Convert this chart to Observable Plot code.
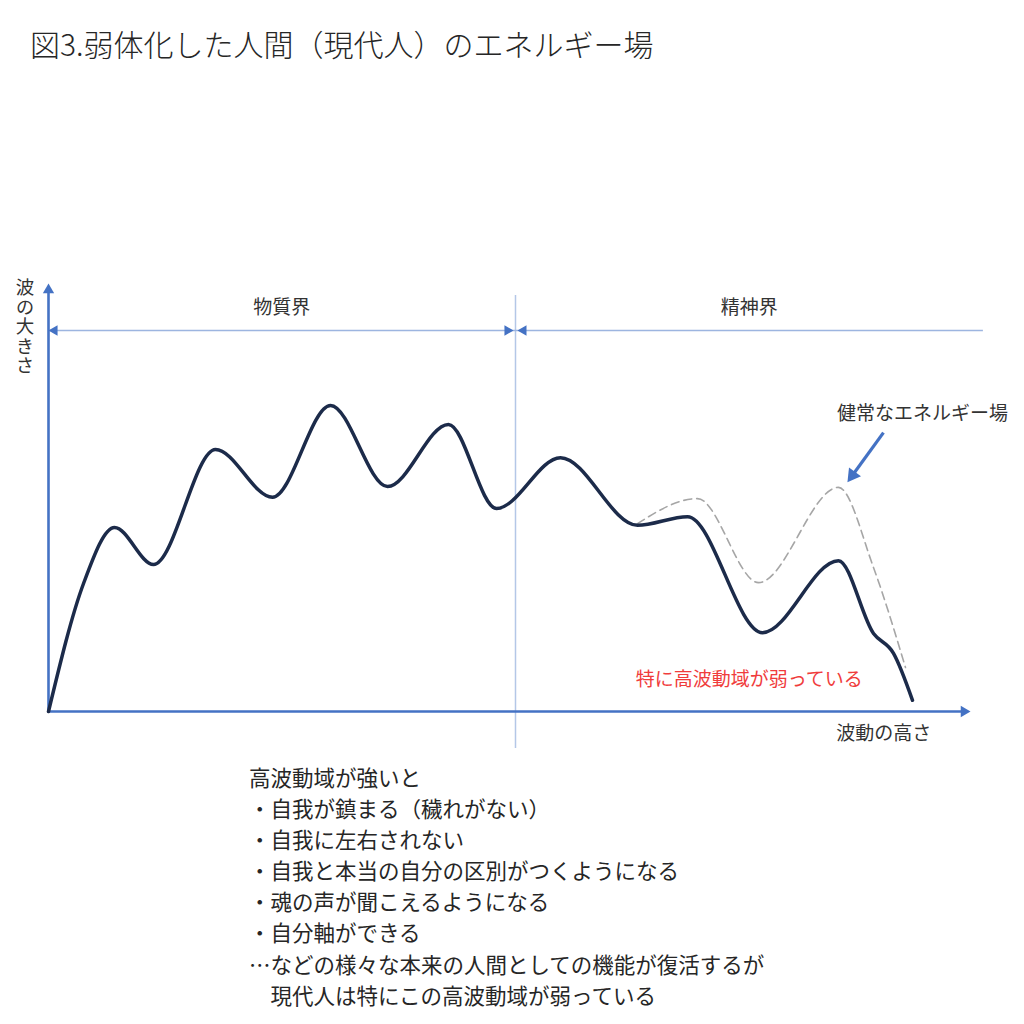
<!DOCTYPE html>
<html>
<head>
<meta charset="utf-8">
<script src="https://cdn.jsdelivr.net/npm/d3@7"></script>
<script src="https://cdn.jsdelivr.net/npm/@observablehq/plot@0.6"></script>
<style>
  html, body { margin: 0; padding: 0; background: #fff; }
  body { position: relative; width: 1024px; height: 1024px; overflow: hidden; font-family: "Noto Sans CJK JP", "Noto Sans", sans-serif; color: #262626; }
  #title { height: 80px; box-sizing: border-box; padding: 26px 0 0 30px; font-size: 30px; line-height: 34px; white-space: nowrap; font-weight: 300; }
  #chart { height: 680px; }
  #chart svg { overflow: visible; display: block; }
  #caption { padding: 1px 0 0 249px; font-size: 21.5px; line-height: 31.1px; white-space: pre; }
  #ylabel { position: absolute; left: 15px; top: 278px; writing-mode: vertical-rl; text-orientation: upright; font-size: 18.5px; line-height: 20px; letter-spacing: 1px; color: #333; white-space: nowrap; }
</style>
</head>
<body>
<div id="title"></div>
<div id="chart"></div>
<div id="caption"></div>
<div id="ylabel"></div>
<script>
// ---- texts ----
const titleText = "図3.弱体化した人間（現代人）のエネルギー場";
const captionLines = [
  "高波動域が強いと",
  "・自我が鎮まる（穢れがない）",
  "・自我に左右されない",
  "・自我と本当の自分の区別がつくようになる",
  "・魂の声が聞こえるようになる",
  "・自分軸ができる",
  "…などの様々な本来の人間としての機能が復活するが",
  "　現代人は特にこの高波動域が弱っている"
];

// ---- weakened (current) energy field: x = 波動の高さ, y = 波の大きさ ----
const mainX = [0, 3.8, 7.16, 11.39, 18.11, 24.30, 30.59, 36.77, 43.38, 48.59, 55.53, 63.88, 69.31, 77.44, 85.68, 89.48, 91.65, 93.71];
const mainY = [0, 29.7, 42.7, 34.1, 60.8, 49.7, 71.0, 52.2, 66.6, 47.1, 58.9, 43.2, 45.2, 18.3, 35.0, 18.1, 13.5, 2.6];

// ---- healthy energy field (dashed) ----
const healthyX = [63.88, 70.39, 77.01, 85.68, 89.48, 92.95];
const healthyY = [43.6, 49.4, 29.9, 52.0, 33.4, 10.2];

// ---- structure ----
const xAxisEnd = 100;
const yAxisTop = 99.3;
const boundaryX = 50.65;          // 物質界 | 精神界
const boundaryY = [-8.6, 96.5];
const bracketY = 88.4;
const bracketEnd = 101.4;
const realmNames = ["物質界", "精神界"];
const realmCenters = [25.3, 76.0];
const realmLabelY = 93.7;

// ---- annotations ----
const healthyLabel = "健常なエネルギー場";
const healthyLabelPos = [94.8, 69.1];
const pointerFrom = [90.56, 64.7];
const pointerTo = [87.2, 54.8];
const weakLabel = "特に高波動域が弱っている";
const weakLabelPos = [76.0, 7.4];
const xLabel = "波動の高さ";
const xLabelPos = [90.6, -5.1];
const yLabel = "波の大きさ";

document.getElementById("title").textContent = titleText;
document.getElementById("ylabel").textContent = yLabel;
const cap = document.getElementById("caption");
captionLines.forEach(t => { const d = document.createElement("div"); d.textContent = t; cap.appendChild(d); });

const mainData = mainX.map((x, i) => ({x, y: mainY[i]}));
const healthyData = healthyX.map((x, i) => ({x, y: healthyY[i]}));

const axisBlue = "#4472C4";
const font = "Noto Sans CJK JP";

const plot = Plot.plot({
  width: 1024,
  height: 680,
  marginLeft: 48,
  marginRight: 54,
  marginTop: 200,
  marginBottom: 49,
  x: {domain: [0, 100], axis: null},
  y: {domain: [0, 100], axis: null},
  style: {fontFamily: font, overflow: "visible", background: "transparent"},
  marks: [
    // boundary between realms
    Plot.ruleX([boundaryX], {y1: boundaryY[0], y2: boundaryY[1], stroke: "#B4C7E7", strokeWidth: 1.5}),
    // realm brackets
    Plot.ruleY([bracketY], {x1: 0, x2: bracketEnd, stroke: "#9DB5E0", strokeWidth: 1.3}),
    Plot.dot([{x: 0, y: bracketY}], {x: "x", y: "y", symbol: "triangle", r: 3.9, fill: axisBlue, stroke: null, rotate: -90, dx: 6}),
    Plot.dot([{x: boundaryX, y: bracketY}], {x: "x", y: "y", symbol: "triangle", r: 3.9, fill: axisBlue, stroke: null, rotate: 90, dx: -8}),
    Plot.dot([{x: boundaryX, y: bracketY}], {x: "x", y: "y", symbol: "triangle", r: 3.9, fill: axisBlue, stroke: null, rotate: -90, dx: 8}),
    Plot.text(realmNames, {x: (d, i) => realmCenters[i], y: realmLabelY, text: d => d, fontSize: 19, fill: "#333"}),
    // axes with arrowheads
    Plot.ruleX([0], {y1: 0, y2: yAxisTop - 1.5, stroke: axisBlue, strokeWidth: 2.6}),
    Plot.dot([{x: 0, y: yAxisTop}], {x: "x", y: "y", symbol: "triangle", r: 4.2, fill: axisBlue, stroke: null, dy: 6.5}),
    Plot.ruleY([0], {x1: 0, x2: xAxisEnd - 0.6, stroke: axisBlue, strokeWidth: 2.6}),
    Plot.dot([{x: xAxisEnd, y: 0}], {x: "x", y: "y", symbol: "triangle", r: 4.2, fill: axisBlue, stroke: null, rotate: 90, dx: -6.5}),
    // healthy field (dashed)
    Plot.line(healthyData, {x: "x", y: "y", curve: "monotone-x", stroke: "#A6A6A6", strokeWidth: 1.6, strokeDasharray: "8,5"}),
    // weakened field
    Plot.line(mainData, {x: "x", y: "y", curve: "monotone-x", stroke: "#1C2B4A", strokeWidth: 3.5, strokeLinejoin: "round"}),
    // pointer to healthy field
    Plot.link([0], {x1: pointerFrom[0], y1: pointerFrom[1], x2: pointerTo[0], y2: pointerTo[1], stroke: axisBlue, strokeWidth: 3.2}),
    Plot.dot([{x: pointerTo[0], y: pointerTo[1]}], {x: "x", y: "y", symbol: "triangle", r: 5.5, fill: axisBlue, stroke: null, rotate: 216}),
    Plot.text([healthyLabel], {x: healthyLabelPos[0], y: healthyLabelPos[1], text: d => d, fontSize: 19, fill: "#333"}),
    Plot.text([weakLabel], {x: weakLabelPos[0], y: weakLabelPos[1], text: d => d, fontSize: 19, fill: "#F03C3C"}),
    Plot.text([xLabel], {x: xLabelPos[0], y: xLabelPos[1], text: d => d, fontSize: 19, fill: "#333"})
  ]
});
document.getElementById("chart").appendChild(plot);
</script>
</body>
</html>
